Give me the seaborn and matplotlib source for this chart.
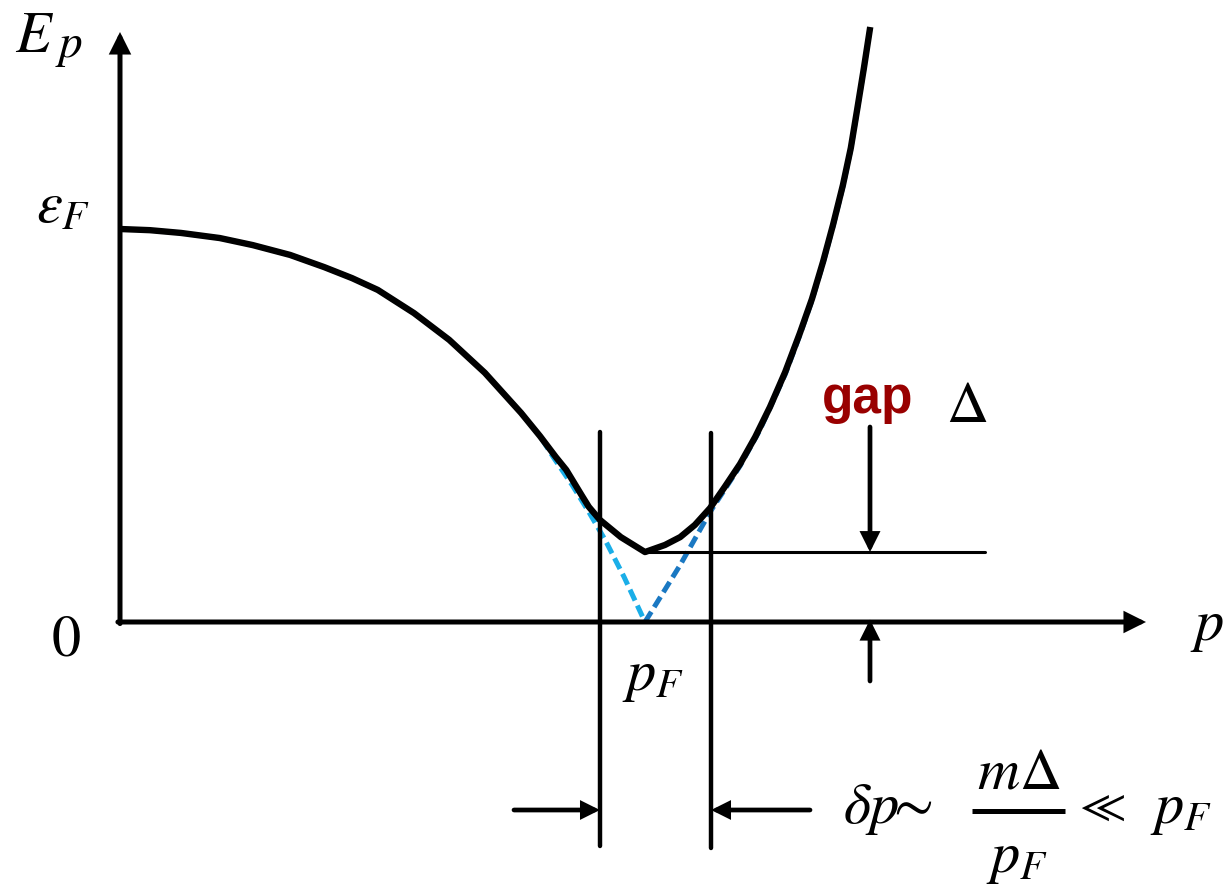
import matplotlib
matplotlib.use("Agg")
import matplotlib.pyplot as plt
import seaborn as sns

# Excitation spectrum of a superconductor: momentum p in units of p_F,
# energy E_p in units of eps_F.
p_gapped = [0.000, 0.057, 0.116, 0.190, 0.253, 0.324, 0.389, 0.442, 0.491,
            0.560, 0.627, 0.695, 0.764, 0.800, 0.830, 0.850, 0.865, 0.880,
            0.893, 0.914, 0.954, 1.000, 1.038, 1.067, 1.095, 1.124, 1.152,
            1.181, 1.210, 1.238, 1.267, 1.295, 1.318, 1.339, 1.358, 1.377,
            1.392, 1.404, 1.417, 1.429]
E_gapped = [1.000, 0.997, 0.990, 0.977, 0.959, 0.934, 0.903, 0.875, 0.845,
            0.786, 0.718, 0.634, 0.532, 0.473, 0.420, 0.387, 0.354, 0.321,
            0.293, 0.260, 0.216, 0.178, 0.196, 0.216, 0.247, 0.290, 0.344,
            0.402, 0.471, 0.547, 0.636, 0.735, 0.822, 0.916, 1.010, 1.112,
            1.206, 1.303, 1.410, 1.514]

# Normal-state |xi_p| below and above the Fermi momentum
p_normal_below = [0.000, 0.057, 0.116, 0.190, 0.253, 0.324, 0.389, 0.442,
                  0.491, 0.560, 0.627, 0.695, 0.764, 0.800, 0.825, 0.861,
                  0.893, 0.924, 0.960, 1.000]
E_normal_below = [1.000, 0.997, 0.990, 0.977, 0.959, 0.934, 0.903, 0.875,
                  0.845, 0.786, 0.718, 0.634, 0.532, 0.473, 0.420, 0.349,
                  0.280, 0.209, 0.115, 0.000]
p_normal_above = [1.000, 1.067, 1.124, 1.181, 1.219, 1.267, 1.295, 1.318,
                  1.339, 1.358, 1.377, 1.392, 1.404, 1.417, 1.429]
E_normal_above = [0.000, 0.145, 0.280, 0.397, 0.489, 0.630, 0.730, 0.818,
                  0.912, 1.006, 1.108, 1.203, 1.300, 1.408, 1.514]

gap = 0.178               # Delta, minimum of E_p at p = p_F
p_fermi = 1.0
window = (0.914, 1.126)   # p-range of width delta p around p_F

sns.set_theme(style="white")
plt.rcParams["mathtext.fontset"] = "stix"
plt.rcParams["text.color"] = "black"

fig = plt.figure(figsize=(12.28, 8.88), dpi=100)
ax = fig.add_axes([0, 0, 1, 1])
# 525 px per p_F, 393 px per eps_F; origin at pixel (120, 622)
X0, SX, Y0, SY = 120.0, 525.0, 622.0, 393.0
ax.set_xlim(-X0 / SX, (1228 - X0) / SX)
ax.set_ylim((Y0 - 888) / SY, Y0 / SY)
ax.axis("off")


def at(x, y):
    """Convert figure pixel position to data coordinates."""
    return (x - X0) / SX, (Y0 - y) / SY


dash = (0, (2.4, 1.1))
sns.lineplot(x=p_normal_below, y=E_normal_below, sort=False, estimator=None,
             color="#1AAEE8", lw=3.6, linestyle=dash, ax=ax, zorder=2)
sns.lineplot(x=p_normal_above, y=E_normal_above, sort=False, estimator=None,
             color="#1A78C2", lw=3.6, linestyle=dash, ax=ax, zorder=2)
sns.lineplot(x=p_gapped, y=E_gapped, sort=False, estimator=None,
             color="black", lw=4.6, ax=ax, zorder=3,
             solid_joinstyle="round", solid_capstyle="butt")

head = dict(arrowstyle="-|>", color="black", shrinkA=0, shrinkB=0,
            joinstyle="miter")

# Coordinate axes
ax.annotate("", xy=at(120, 32), xytext=(0, -0.004),
            arrowprops=dict(head, lw=3.6, mutation_scale=26))
ax.annotate("", xy=at(1146, 622), xytext=(-0.004, 0),
            arrowprops=dict(head, lw=3.6, mutation_scale=26))

# Gap level and its arrows
ax.plot([p_fermi, at(985, 0)[0]], [gap, gap], color="black", lw=2.2, zorder=3)
ax.annotate("", xy=(at(870, 0)[0], gap), xytext=at(870, 427),
            arrowprops=dict(head, lw=3.4, mutation_scale=24))
ax.annotate("", xy=(at(870, 0)[0], 0.006), xytext=at(870, 681),
            arrowprops=dict(head, lw=3.4, mutation_scale=24))

# delta p window
for pw, top, bot in [(window[0], 432, 846), (window[1], 433, 848)]:
    ax.plot([pw, pw], [at(0, top)[1], at(0, bot)[1]], color="black",
            lw=3.2, zorder=3)
ax.annotate("", xy=(window[0], at(0, 810)[1]), xytext=at(514, 810),
            arrowprops=dict(head, lw=3.4, mutation_scale=22))
ax.annotate("", xy=(window[1], at(0, 810)[1]), xytext=at(810, 810),
            arrowprops=dict(head, lw=3.4, mutation_scale=22))

# Axis labels and marks
fs = 42
ax.text(*at(15, 52), r"$E$", fontsize=fs, ha="left", va="baseline")
ax.text(*at(55, 57), r"$p$", fontsize=34, ha="left", va="baseline")
ax.text(*at(36, 222), r"$\varepsilon_F$", fontsize=fs, ha="left", va="baseline")
ax.text(*at(66, 655), r"$0$", fontsize=fs, ha="center", va="baseline")
ax.text(*at(1190, 640), r"$p$", fontsize=fs, ha="left", va="baseline")
ax.text(*at(622, 690), r"$p_F$", fontsize=fs, ha="left", va="baseline")
ax.text(*at(822, 413), "gap", fontsize=37, fontweight="bold",
        family="Liberation Sans", color="#990000", ha="left", va="baseline")
ax.text(*at(946, 422), r"$\Delta$", fontsize=fs, ha="left", va="baseline")

# delta p ~ m Delta / p_F << p_F
ax.text(*at(843, 823), r"$\delta p\!\!\sim$", fontsize=fs, ha="left",
        va="baseline")
ax.text(*at(1019, 788), r"$m\Delta$", fontsize=fs, ha="center", va="baseline")
ax.plot([at(972, 0)[0], at(1065, 0)[0]], [at(0, 811)[1]] * 2,
        color="black", lw=3.6, solid_capstyle="butt")
ax.text(*at(1017, 872), r"$p_F$", fontsize=fs, ha="center", va="baseline")
ax.text(*at(1074, 820), r"$\ll$", fontsize=34, ha="left", va="baseline")
ax.text(*at(1150, 823), r"$p_F$", fontsize=fs, ha="left", va="baseline")

fig.savefig("out.png", dpi=100)
